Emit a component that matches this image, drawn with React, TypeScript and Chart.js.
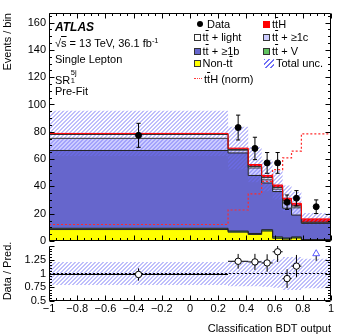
import React, { useEffect, useRef } from 'react';
import { Chart, registerables } from 'chart.js';

Chart.register(...registerables);

// ---------------- data ----------------
const binEdges = [-1, 0.27, 0.413, 0.508, 0.586, 0.657, 0.72, 0.79, 1];
const nonTT = [8.4, 6.5, 4.8, 7.3, 2.0, 1.4, 2.2, 0.6];
const ttV = [0.9, 0.8, 0.7, 1.0, 1.0, 0.8, 0.8, 0.5];
const ttB = [57.0, 57.2, 42.5, 34.2, 33.2, 21.8, 16.0, 11.8];
const ttC = [8.9, 2.0, 5.5, 2.3, 1.8, 3.8, 5.3, 0.4];
const ttLight = [2.8, 0.5, 1.1, 1.6, 1.2, 1.5, 1.3, 0.5];
const ttH = [0.8, 1.0, 1.4, 1.6, 1.8, 2.0, 2.0, 2.4];
const totalUncFrac = [0.21, 0.23, 0.23, 0.24, 0.26, 0.3, 0.3, 0.27];
const ttHNorm = [12.1, 22.7, 34.5, 43.6, 52.3, 60.9, 65.8, 78.5];
const dataValues = [77.4, 83.1, 67.8, 57.2, 57.2, 28.4, 31.3, 25.1];
const dataErrors = [8.8, 9.1, 8.2, 7.6, 7.6, 5.3, 5.6, 5.0];

const topYTicks = [0, 20, 40, 60, 80, 100, 120, 140, 160];
const ratioYTicks = [0.5, 0.75, 1, 1.25];
const xTicks = [-1, -0.8, -0.6, -0.4, -0.2, 0, 0.2, 0.4, 0.6, 0.8, 1];

const FONT = '"Liberation Sans", Arial, Helvetica, sans-serif';
const HATCH = 'rgb(112,112,246)';

// ---------------- derived tables ----------------
const nBins = binEdges.length - 1;
const binCenters = binEdges.slice(0, -1).map((e, i) => (e + binEdges[i + 1]) / 2);
const cumulate = (...comps: number[][]) => comps[0].map((_, i) => comps.reduce((s, c) => s + c[i], 0));
const cNonTT = cumulate(nonTT);
const cTTV = cumulate(nonTT, ttV);
const cTTB = cumulate(nonTT, ttV, ttB);
const cTTC = cumulate(nonTT, ttV, ttB, ttC);
const cLight = cumulate(nonTT, ttV, ttB, ttC, ttLight);
const cTTH = cumulate(nonTT, ttV, ttB, ttC, ttLight, ttH);
const totalPred = cTTH;
const steps = (vals: number[]) => [
  ...vals.map((v, i) => ({ x: binEdges[i], y: v })),
  { x: binEdges[nBins], y: vals[nBins - 1] },
];

const RATIO_MIN = 0.5;
const RATIO_MAX = 1.5;
const ratioVals = dataValues.map((d, i) => d / totalPred[i]);
const ratioErrs = dataErrors.map((e, i) => e / totalPred[i]);

// style constants
const CAP = 0.015;
const ARROW_STEM = [1.23, 1.33];
const ARROW_HEAD = 1.36;

// ---------------- frame + inward ticks plugin ----------------
const frameTicks = {
  id: 'frameTicks',
  afterDatasetsDraw(chart: any, _a: any, o: any) {
    if (!o || !o.enabled) return;
    const { ctx, chartArea: a } = chart;
    const xs = chart.scales.x;
    const ys = chart.scales.y;
    const L = Math.round(a.left) + 0.5;
    const R = Math.round(a.right) - 0.5;
    const T = Math.round(a.top) + 0.5;
    const B = Math.round(a.bottom) - 0.5;
    ctx.save();
    ctx.strokeStyle = '#000';
    ctx.lineWidth = 1;
    ctx.beginPath();
    ctx.moveTo(L, T);
    ctx.lineTo(L, B);
    ctx.lineTo(R, B);
    ctx.lineTo(R, T);
    if (o.drawTop) ctx.lineTo(L, T);
    const isMajor = (v: number, m: number) => Math.abs(v / m - Math.round(v / m)) < 1e-6;
    const k0 = Math.ceil(xs.min / o.xMinor - 1e-6);
    const k1 = Math.floor(xs.max / o.xMinor + 1e-6);
    for (let k = k0; k <= k1; k++) {
      const v = k * o.xMinor;
      const px = Math.round(xs.getPixelForValue(v)) + 0.5;
      const len = isMajor(v, o.xMajor) ? o.xMajLen : o.xMinLen;
      if (o.bottomTicks) { ctx.moveTo(px, B); ctx.lineTo(px, B - len); }
      if (o.topTicks) { ctx.moveTo(px, T); ctx.lineTo(px, T + len); }
    }
    const j0 = Math.ceil(ys.min / o.yMinor - 1e-6);
    const j1 = Math.floor(ys.max / o.yMinor + 1e-6);
    for (let j = j0; j <= j1; j++) {
      const v = j * o.yMinor;
      const py = Math.round(ys.getPixelForValue(v)) + 0.5;
      const len = isMajor(v, o.yMajor) ? o.yMajLen : o.yMinLen;
      ctx.moveTo(L, py); ctx.lineTo(L + len, py);
      ctx.moveTo(R, py); ctx.lineTo(R - len, py);
    }
    ctx.stroke();
    ctx.restore();
  },
};

// ---------------- hatched band between two stepped datasets ----------------
const hatchBand = {
  id: 'hatchBand',
  beforeDatasetsDraw(chart: any, _a: any, o: any) {
    if (!o || o.lower == null) return;
    const lo = chart.getDatasetMeta(o.lower).data;
    const hi = chart.getDatasetMeta(o.upper).data;
    if (!lo.length || !hi.length) return;
    const { ctx, chartArea: a } = chart;
    ctx.save();
    ctx.beginPath();
    ctx.rect(a.left, a.top, a.right - a.left, a.bottom - a.top);
    ctx.clip();
    ctx.beginPath();
    hi.forEach((p: any, i: number) => {
      if (i === 0) ctx.moveTo(p.x, p.y);
      else { ctx.lineTo(p.x, hi[i - 1].y); ctx.lineTo(p.x, p.y); }
    });
    const n = lo.length - 1;
    ctx.lineTo(lo[n].x, lo[n].y);
    for (let i = n; i >= 1; i--) {
      ctx.lineTo(lo[i].x, lo[i - 1].y);
      ctx.lineTo(lo[i - 1].x, lo[i - 1].y);
    }
    ctx.closePath();
    ctx.clip();
    ctx.strokeStyle = o.color;
    ctx.lineWidth = o.width;
    ctx.beginPath();
    // lines anchored to absolute canvas pixels so both panels share the same phase
    const yB = Math.ceil(a.bottom) + 2;
    const yT = Math.floor(a.top) - 2;
    const span = yB - yT;
    const x0 = Math.floor((a.left - span - 8) / o.spacing) * o.spacing + yB % o.spacing + 0.5;
    for (let x = x0; x < a.right + 8; x += o.spacing) {
      ctx.moveTo(x, yB);
      ctx.lineTo(x + span, yT);
    }
    ctx.stroke();
    ctx.restore();
  },
};

const fmtX = (v: number) => {
  const r = Math.round(v * 10) / 10;
  if (Math.abs(r) < 1e-9) return '0';
  return (r < 0 ? '\u2212' : '') + String(Math.abs(r));
};

const histDs = (vals: number[], bg: any, border: string, order: number, fill: any) => ({
  data: steps(vals),
  stepped: true,
  backgroundColor: bg,
  borderColor: border,
  borderWidth: 1,
  pointRadius: 0,
  fill,
  order,
});

const bandEdge = (vals: number[], order: number) => ({
  data: steps(vals),
  stepped: true,
  borderColor: 'rgba(0,0,0,0)',
  borderWidth: 1,
  pointRadius: 0,
  fill: false,
  order,
});

function TT() {
  return (
    <>
      t<span style={{ textDecoration: 'overline' }}>t</span>
    </>
  );
}

export default function App() {
  const topRef = useRef<HTMLCanvasElement>(null);
  const botRef = useRef<HTMLCanvasElement>(null);

  useEffect(() => {
    const tickFont = { family: FONT, size: 11 };

    // error bars for top panel
    const errTop: any[] = [];
    dataValues.forEach((v, i) => {
      const x = binCenters[i];
      const lo = v - dataErrors[i];
      const hi = v + dataErrors[i];
      errTop.push({ x, y: lo }, { x, y: hi }, { x, y: null });
      errTop.push({ x: x - CAP, y: hi }, { x: x + CAP, y: hi }, { x, y: null });
      errTop.push({ x: x - CAP, y: lo }, { x: x + CAP, y: lo }, { x, y: null });
    });

    const top = new Chart(topRef.current!, {
      type: 'line',
      data: {
        datasets: [
          histDs(cNonTT, '#ffff00', '#222', 20, 'origin'),
          histDs(cTTV, '#4cb04c', '#222', 19, '-1'),
          histDs(cTTB, '#6666cc', '#222', 18, '-1'),
          histDs(cTTC, '#ccccff', '#333', 17, '-1'),
          histDs(cLight, '#ffffff', '#333', 16, '-1'),
          histDs(cTTH, '#ff0000', '#ff0000', 15, '-1'),
          bandEdge(totalPred.map((t, i) => t * (1 - totalUncFrac[i])), 14),
          bandEdge(totalPred.map((t, i) => t * (1 + totalUncFrac[i])), 13),
          {
            data: steps(ttHNorm), stepped: true, borderColor: '#ff2a2a', borderWidth: 1.2,
            borderDash: [2, 2], pointRadius: 0, fill: false, order: 3,
          },
          {
            data: errTop, borderColor: '#000', borderWidth: 1, pointRadius: 0, fill: false,
            spanGaps: false, order: 2,
          },
          {
            data: dataValues.map((v, i) => ({ x: binCenters[i], y: v })),
            showLine: false, pointRadius: 3, pointBackgroundColor: '#000', pointBorderColor: '#000',
            pointBorderWidth: 1, fill: false, order: 1,
          },
        ] as any,
      },
      options: {
        responsive: false,
        animation: false,
        events: [],
        layout: { padding: { left: 0, right: 18, top: 13, bottom: 11 } },
        plugins: {
          legend: { display: false },
          tooltip: { enabled: false },
          colors: { enabled: false },
          filler: { propagate: false, drawTime: 'beforeDatasetsDraw' },
          hatchBand: { lower: 6, upper: 7, color: HATCH, width: 0.9, spacing: 4 },
          frameTicks: {
            enabled: true, drawTop: true, topTicks: true, bottomTicks: true,
            xMajor: 0.2, xMinor: 0.05, xMajLen: 5, xMinLen: 2.5,
            yMajor: 20, yMinor: 5, yMajLen: 5, yMinLen: 2.5,
          },
        } as any,
        scales: {
          x: { type: 'linear', min: -1, max: 1, display: false },
          y: {
            type: 'linear', min: 0, max: 167,
            afterFit: (s: any) => { s.width = 49; s.paddingTop = 0; s.paddingBottom = 0; },
            afterBuildTicks: (s: any) => { s.ticks = topYTicks.map((v) => ({ value: v })); },
            grid: { display: false, drawTicks: false },
            border: { display: false },
            ticks: { font: tickFont, color: '#000', padding: 3 },
          },
        },
      },
      plugins: [hatchBand, frameTicks],
    } as any);

    // ratio panel
    const inRange = ratioVals.map((r) => r <= RATIO_MAX && r >= RATIO_MIN);
    const errBot: any[] = [];
    ratioVals.forEach((r, i) => {
      if (!inRange[i]) return;
      const x = binCenters[i];
      errBot.push({ x, y: r - ratioErrs[i] }, { x, y: r + ratioErrs[i] }, { x, y: null });
      errBot.push({ x: binEdges[i], y: r }, { x: binEdges[i + 1], y: r }, { x, y: null });
    });
    const arrowStems: any[] = [];
    const arrowHeads: any[] = [];
    ratioVals.forEach((r, i) => {
      if (r > RATIO_MAX) {
        arrowStems.push({ x: binCenters[i], y: ARROW_STEM[0] }, { x: binCenters[i], y: ARROW_STEM[1] }, { x: binCenters[i], y: null });
        arrowHeads.push({ x: binCenters[i], y: ARROW_HEAD });
      }
    });

    const bot = new Chart(botRef.current!, {
      type: 'line',
      data: {
        datasets: [
          bandEdge(totalUncFrac.map((f) => 1 - f), 10),
          bandEdge(totalUncFrac.map((f) => 1 + f), 9),
          {
            data: [{ x: -1, y: 1 }, { x: 1, y: 1 }], borderColor: '#000', borderWidth: 1,
            borderDash: [2, 2], pointRadius: 0, fill: false, order: 8,
          },
          {
            data: errBot, borderColor: '#000', borderWidth: 1, pointRadius: 0, fill: false,
            spanGaps: false, order: 5,
          },
          {
            data: arrowStems, borderColor: '#000', borderWidth: 1, pointRadius: 0, fill: false,
            spanGaps: false, order: 4,
          },
          {
            data: arrowHeads, showLine: false, pointStyle: 'triangle', pointRadius: 4,
            pointBackgroundColor: '#fff', pointBorderColor: '#5b5bff', pointBorderWidth: 1, fill: false, order: 3,
          },
          {
            data: ratioVals.map((r, i) => (inRange[i] ? { x: binCenters[i], y: r } : { x: binCenters[i], y: null })),
            showLine: false, pointRadius: 3.2, pointBackgroundColor: '#fff', pointBorderColor: '#000',
            pointBorderWidth: 1, fill: false, order: 1,
          },
        ] as any,
      },
      options: {
        responsive: false,
        animation: false,
        events: [],
        layout: { padding: { left: 0, right: 18, top: 0, bottom: 0 } },
        plugins: {
          legend: { display: false },
          tooltip: { enabled: false },
          colors: { enabled: false },
          filler: { propagate: false, drawTime: 'beforeDatasetsDraw' },
          hatchBand: { lower: 0, upper: 1, color: HATCH, width: 0.9, spacing: 4 },
          frameTicks: {
            enabled: true, drawTop: false, topTicks: false, bottomTicks: true,
            xMajor: 0.2, xMinor: 0.05, xMajLen: 5, xMinLen: 2.5,
            yMajor: 0.25, yMinor: 0.05, yMajLen: 5, yMinLen: 2.5,
          },
        } as any,
        scales: {
          x: {
            type: 'linear', min: -1, max: 1,
            afterFit: (s: any) => { s.height = 34; s.paddingLeft = 0; s.paddingRight = 0; },
            afterBuildTicks: (s: any) => { s.ticks = xTicks.map((v) => ({ value: v })); },
            grid: { display: false, drawTicks: false },
            border: { display: false },
            ticks: { font: tickFont, color: '#000', padding: 1, maxRotation: 0, autoSkip: false, callback: (v: any) => fmtX(Number(v)) },
          },
          y: {
            type: 'linear', min: RATIO_MIN, max: RATIO_MAX,
            afterFit: (s: any) => { s.width = 49; s.paddingTop = 0; s.paddingBottom = 0; },
            afterBuildTicks: (s: any) => { s.ticks = ratioYTicks.map((v) => ({ value: v })); },
            grid: { display: false, drawTicks: false },
            border: { display: false },
            ticks: { font: tickFont, color: '#000', padding: 3, callback: (v: any) => String(v) },
          },
        },
      },
      plugins: [hatchBand, frameTicks],
    } as any);

    return () => {
      top.destroy();
      bot.destroy();
    };
  }, []);

  const txt = (left: number, cy: number, size: number, extra: any = {}) => ({
    position: 'absolute' as const,
    left,
    top: cy - size / 2,
    fontSize: size,
    lineHeight: `${size}px`,
    whiteSpace: 'nowrap' as const,
    ...extra,
  });
  const box = (left: number, cy: number, bg: string, border = '1px solid #333') => ({
    position: 'absolute' as const,
    left,
    top: cy - 3.5,
    width: 7,
    height: 7,
    background: bg,
    border,
    boxSizing: 'border-box' as const,
  });

  const rows = [24, 37.7, 51, 63.3, 79];
  const c1Box = 194;
  const c1Txt = 202.5;
  const c2Box = 263;
  const c2Txt = 272;

  return (
    <div
      style={{
        position: 'fixed', left: 0, top: 0, width: 349, height: 335, overflow: 'hidden',
        background: '#fff', fontFamily: FONT, color: '#000',
      }}
    >
      <canvas ref={topRef} width={349} height={252} style={{ position: 'absolute', left: 0, top: 0, display: 'block' }} />
      <canvas ref={botRef} width={349} height={94} style={{ position: 'absolute', left: 0, top: 241, display: 'block' }} />

      {/* axis titles */}
      <div
        style={{
          position: 'absolute', left: 1, top: 13 + 90, width: 90, lineHeight: '13px', fontSize: 11,
          textAlign: 'right', transform: 'rotate(-90deg)', transformOrigin: '0 0', whiteSpace: 'nowrap',
        }}
      >
        Events / bin
      </div>
      <div
        style={{
          position: 'absolute', left: 1, top: 301, width: 60, lineHeight: '13px', fontSize: 11,
          textAlign: 'center', transform: 'rotate(-90deg)', transformOrigin: '0 0', whiteSpace: 'nowrap',
        }}
      >
        Data / Pred.
      </div>
      <div style={{ position: 'absolute', left: 0, width: 331, top: 328 - 5.5, fontSize: 11, lineHeight: '11px', textAlign: 'right', whiteSpace: 'nowrap' }}>
        Classification BDT output
      </div>

      {/* ATLAS labels */}
      <div style={txt(55, 27, 12, { fontWeight: 'bold', fontStyle: 'italic' })}>ATLAS</div>
      <div style={txt(55, 43, 11)}>
        √<span style={{ textDecoration: 'overline' }}>s</span> = 13 TeV, 36.1 fb
        <span style={{ fontSize: 7.5, position: 'relative', top: -4 }}>-1</span>
      </div>
      <div style={txt(55, 59, 11)}>Single Lepton</div>
      <div style={txt(55, 78, 11)}>
        SR
        <span style={{ position: 'relative', display: 'inline-block', width: 9, height: 11 }}>
          <span style={{ position: 'absolute', left: 0.5, top: -4, fontSize: 7.5, lineHeight: '8px' }}>5j</span>
          <span style={{ position: 'absolute', left: 0.5, top: 4.5, fontSize: 7.5, lineHeight: '8px' }}>1</span>
        </span>
      </div>
      <div style={txt(55, 91, 11)}>Pre-Fit</div>

      {/* legend column 1 */}
      <div style={{ position: 'absolute', left: 196.5, top: rows[0] - 3, width: 6, height: 6, borderRadius: 3, background: '#000' }} />
      <div style={txt(207, rows[0], 11)}>Data</div>
      <div style={box(c1Box, rows[1], '#ffffff')} />
      <div style={txt(c1Txt, rows[1], 11)}><TT /> + light</div>
      <div style={box(c1Box, rows[2], '#6666cc')} />
      <div style={txt(c1Txt, rows[2], 11)}><TT /> + ≥1b</div>
      <div style={box(c1Box, rows[3], '#ffff00')} />
      <div style={txt(c1Txt, rows[3], 11)}>Non-<TT /></div>
      <div style={{ position: 'absolute', left: 194, top: rows[4] - 0.75, width: 8, height: 0, borderTop: '1.5px dotted #ff3b3b' }} />
      <div style={txt(204, rows[4], 11)}><TT />H (norm)</div>

      {/* legend column 2 */}
      <div style={box(c2Box, rows[0], '#ff0000', '1px solid #ff0000')} />
      <div style={txt(c2Txt, rows[0], 11)}><TT />H</div>
      <div style={box(c2Box, rows[1], '#ccccff')} />
      <div style={txt(c2Txt, rows[1], 11)}><TT /> + ≥1c</div>
      <div style={box(c2Box, rows[2], '#5fc35f')} />
      <div style={txt(c2Txt, rows[2], 11)}><TT /> + V</div>
      <div
        style={{
          position: 'absolute', left: 264, top: rows[3] - 4.5, width: 10, height: 9,
          background: `repeating-linear-gradient(135deg, ${HATCH} 0 1px, rgba(255,255,255,0) 1px 3.5px)`,
        }}
      />
      <div style={txt(276, rows[3], 11)}>Total unc.</div>
    </div>
  );
}
